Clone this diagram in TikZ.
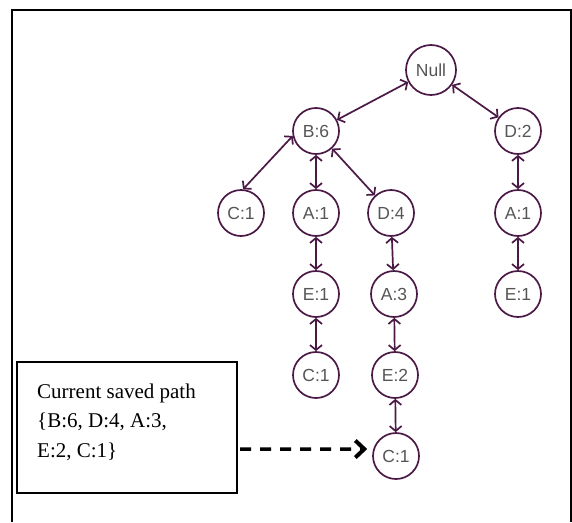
\documentclass[tikz,border=0pt]{standalone}
\usepackage{fontspec}
\setmainfont{Liberation Serif}
\newfontfamily\arialfont{Liberation Sans}
\usetikzlibrary{arrows.meta}
\definecolor{plum}{RGB}{75,25,70}
\definecolor{lbl}{RGB}{85,85,85}
\tikzstyle{item}=[circle,draw=plum,line width=1.7pt,minimum size=46pt,inner sep=0pt,text=lbl,font=\arialfont\fontsize{17.5}{17.5}\selectfont]
\tikzstyle{link}=[plum,line width=1.7pt,{Straight Barb[length=5pt,width=12pt]}-{Straight Barb[length=5pt,width=12pt]}]
\tikzstyle{saved}=[black,line width=3.5pt,dash pattern=on 11pt off 9pt,-{Straight Barb[length=9pt,width=17pt,line width=4pt]}]

\begin{document}
\begin{tikzpicture}[x=1pt,y=-1pt]
    \useasboundingbox (0,0) rectangle (572,522);
    \draw[line width=2pt] (12,522) -- (12,10) -- (570.5,10) -- (570.5,522);

    \node[item,minimum size=50pt] (nul) at (431,70) {Null};
    \node[item] (b6) at (316,131) {B:6};
    \node[item] (d2) at (518,131) {D:2};
    \node[item] (c1a) at (241,213) {C:1};
    \node[item] (a1a) at (316,213) {A:1};
    \node[item] (d4) at (391,213) {D:4};
    \node[item] (a1b) at (518,213) {A:1};
    \node[item] (e1a) at (316,294) {E:1};
    \node[item] (a3) at (394,294) {A:3};
    \node[item] (e1b) at (518,294) {E:1};
    \node[item] (c1b) at (316,375) {C:1};
    \node[item] (e2) at (395,375) {E:2};
    \node[item] (c1c) at (396,456) {C:1};

    \node[draw,line width=1.2pt,minimum width=220pt,minimum height=131pt,inner sep=0pt] (box) at (127,427.5) {};
    % base of a multi-line node sits on its last line
    \node[align=left,anchor=base west,inner sep=0pt,font=\fontsize{21}{29.5}\selectfont] (path) at (37,457) {Current saved path\\\{B:6, D:4, A:3,\\E:2, C:1\}};
    \coordinate (src) at (240,449);

    \draw[link] (nul) -- (b6);
    \draw[link] (nul) -- (d2);
    \draw[link] (b6.192) -- (c1a.85);
    \draw[link] (b6) -- (a1a);
    \draw[link] (b6) -- (d4);
    \draw[link] (d2) -- (a1b);
    \draw[link] (a1a) -- (e1a);
    \draw[link] (d4) -- (a3);
    \draw[link] (a1b) -- (e1b);
    \draw[link] (e1a) -- (c1b);
    \draw[link] (a3) -- (e2);
    \draw[link] (e2) -- (c1c);
    \draw[saved,shorten >=6pt] (src) -- (c1c.163);
\end{tikzpicture}
\end{document}
